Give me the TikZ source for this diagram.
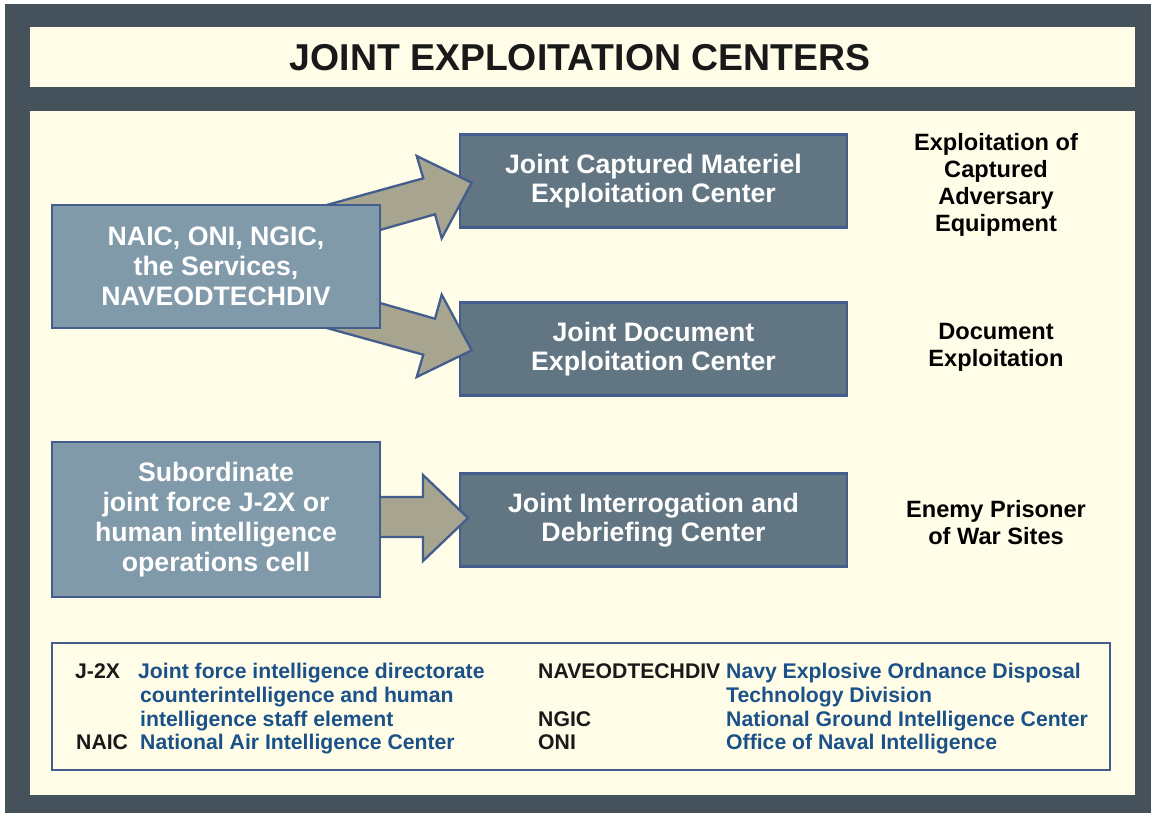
\documentclass[tikz,border=0pt]{standalone}
\usepackage{fontspec}
\setmainfont{Liberation Sans}
\usetikzlibrary{calc}
\definecolor{framec}{HTML}{46525B}
\definecolor{cream}{HTML}{FFFDE8}
\definecolor{lboxc}{HTML}{819AAA}
\definecolor{rboxc}{HTML}{627582}
\definecolor{bordc}{HTML}{435D8C}
\definecolor{arrowc}{HTML}{A7A58F}
\definecolor{legblue}{HTML}{1B5189}
\begin{document}
\begin{tikzpicture}[x=1pt,y=-1pt,
  srcbox/.style={draw=bordc, line width=2.4pt, fill=lboxc, text=white,
    font=\bfseries\fontsize{26.7}{30}\selectfont, align=center,
    minimum width=328pt, inner sep=0pt},
  ctrbox/.style={draw=bordc, line width=2.4pt, fill=rboxc, text=white,
    font=\bfseries\fontsize{26.7}{28.5}\selectfont, align=center,
    minimum width=387pt, minimum height=93pt, inner sep=0pt},
  sidelbl/.style={text=black, font=\bfseries\fontsize{23.6}{27}\selectfont, align=center, inner sep=0pt},
  blockarrow/.style={draw=bordc, line width=2.3pt, fill=arrowc, line join=miter},
  abbr/.style={anchor=base west, inner sep=0pt, text=black!90, font=\bfseries\fontsize{21.2}{24}\selectfont},
  defn/.style={anchor=base west, inner sep=0pt, text=legblue, font=\bfseries\fontsize{21.2}{24}\selectfont}]
\useasboundingbox (0,0) rectangle (1151,813);
% frame and panels
\fill[framec] (5,4) rectangle (1151,813);
\fill[cream] (30,27) rectangle (1135,87);
\fill[cream] (30,111) rectangle (1135,795);
\node[font=\bfseries\fontsize{37.4}{40}\selectfont, text=black!90, inner sep=0pt] (title) at (580,57.5) {JOINT EXPLOITATION CENTERS};
% target boxes
\node[ctrbox] (jcmec) at (653.5,181) {Joint Captured Materiel\\Exploitation Center};
\node[ctrbox] (jdec) at (653.5,349) {Joint Document\\Exploitation Center};
\node[ctrbox] (jidc) at (653.5,520) {Joint Interrogation and\\Debriefing Center};
% block arrows
\draw[blockarrow] (300,212.4) -- (423.3,178.3) -- (416.7,156) -- (471.7,182.7) -- (441.7,238.3) -- (435,214.3) -- (380,230) -- (300,252.8) -- cycle;
\draw[blockarrow] (300,320.6) -- (423.3,354.7) -- (416.7,377) -- (471.7,350.3) -- (441.7,294.7) -- (435,318.7) -- (380,303) -- (300,280.2) -- cycle;
\draw[blockarrow] (370,497) -- (423,497) -- (423,475) -- (468,518) -- (423,561) -- (423,537) -- (370,537) -- cycle;
% source boxes
\node[srcbox, minimum height=123pt] (src1) at (216,266.5) {NAIC, ONI, NGIC,\\the Services,\\NAVEODTECHDIV};
\node[srcbox, minimum height=155pt] (src2) at (216,519.5) {Subordinate\\joint force J-2X or\\human intelligence\\operations cell};
% side labels
\node[sidelbl] (lbl1) at (996,185) {Exploitation of\\Captured\\Adversary\\Equipment};
\node[sidelbl] (lbl2) at (996,347) {Document\\Exploitation};
\node[sidelbl] (lbl3) at (996,523) {Enemy Prisoner\\of War Sites};
% legend
\node[draw=bordc, line width=2pt, fill=cream, minimum width=1058pt, minimum height=127pt, inner sep=0pt] (legend) at (581,706.5) {};
\node[abbr] (a1) at (75,678) {J-2X};
\node[defn] (d1a) at (138,678) {Joint force intelligence directorate};
\node[defn] (d1b) at (140,702) {counterintelligence and human};
\node[defn] (d1c) at (140,726) {intelligence staff element};
\node[abbr] (a2) at (76,749) {NAIC};
\node[defn] (d2) at (140,749) {National Air Intelligence Center};
\node[abbr] (a3) at (538,678) {NAVEODTECHDIV};
\node[defn] (d3a) at (726,678) {Navy Explosive Ordnance Disposal};
\node[defn] (d3b) at (726,702) {Technology Division};
\node[abbr] (a4) at (538,726) {NGIC};
\node[defn] (d4) at (726,726) {National Ground Intelligence Center};
\node[abbr] (a5) at (538,749) {ONI};
\node[defn] (d5) at (726,749) {Office of Naval Intelligence};
\end{tikzpicture}
\end{document}
